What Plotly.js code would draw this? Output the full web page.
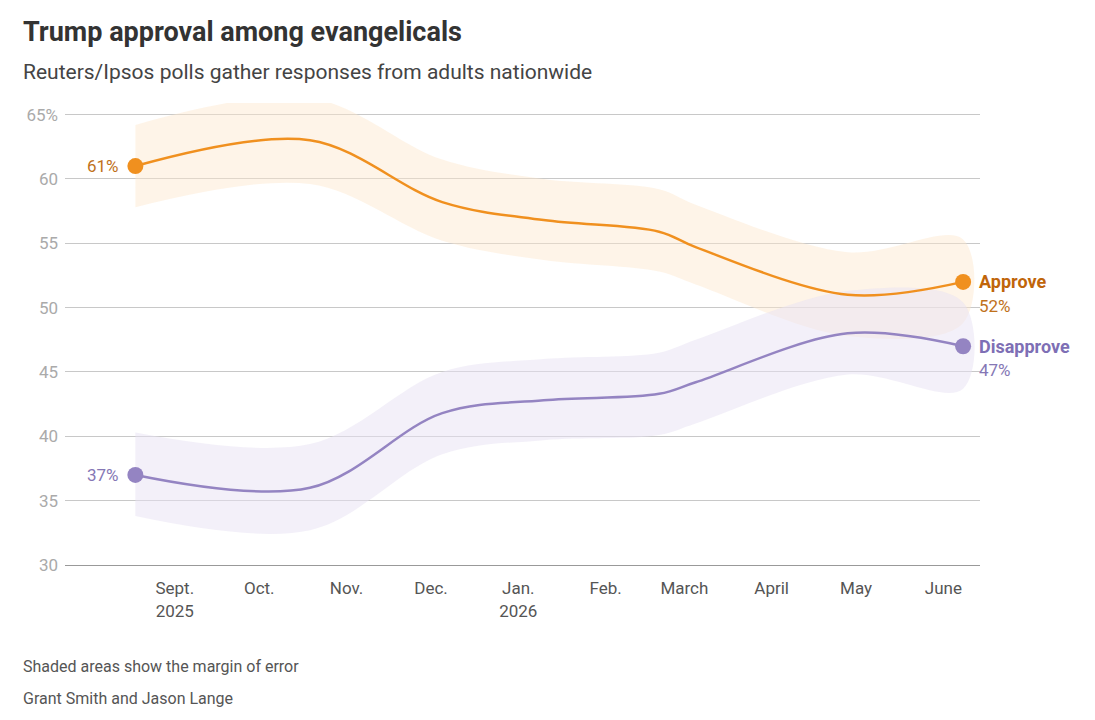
<!DOCTYPE html>
<html>
<head>
<meta charset="utf-8">
<script src="https://cdn.plot.ly/plotly-3.0.1.min.js"></script>
<style>body{margin:0;background:#fff}</style>
</head>
<body>
<div id="graph"></div>
<script>
// poll dates and readings
const dates = ['2025-08-18', '2025-10-19', '2025-12-05', '2026-01-10', '2026-02-20', '2026-03-05', '2026-04-28', '2026-06-08'];
const approve = [61, 63, 58.2, 56.8, 55.9, 54.7, 51, 52];
const disapprove = [37, 36, 41.8, 42.8, 43.3, 44.2, 48, 47];
const approveUpper = [64.2, 66.3, 61.5, 60, 59.2, 58, 54.3, 55.3];
const approveLower = [57.8, 59.6, 55.2, 53.7, 52.8, 51.8, 47.8, 48.8];
const disapproveUpper = [40.3, 39.4, 45, 46, 46.5, 47.5, 51.3, 50.4];
const disapproveLower = [33.8, 32.7, 38.6, 39.7, 40.1, 41, 44.8, 43.7];
const tickDates = ['2025-09-01', '2025-10-01', '2025-11-01', '2025-12-01', '2026-01-01', '2026-02-01', '2026-03-01', '2026-04-01', '2026-05-01', '2026-06-01'];
const tickLabels = ['Sept.<br>2025', 'Oct.', 'Nov.', 'Dec.', 'Jan.<br>2026', 'Feb.', 'March', 'April', 'May', 'June'];
const yTicks = [30, 35, 40, 45, 50, 55, 60, 65];
const yLabels = ['30', '35', '40', '45', '50', '55', '60', '65%'];

const orange = '#f0901f';
const purple = '#9484c2';
const last = dates.length - 1;

function band(upper, lower, color)
{
  return {
    x: dates.concat(dates.slice().reverse()),
    y: upper.concat(lower.slice().reverse()),
    type: 'scatter', mode: 'lines', fill: 'toself', fillcolor: color,
    line: {width: 0, shape: 'spline', smoothing: 1}, hoverinfo: 'skip'
  };
}

function line(values, color)
{
  return {x: dates, y: values, type: 'scatter', mode: 'lines',
    line: {color: color, width: 2.5, shape: 'spline', smoothing: 1}};
}

function ends(values, color)
{
  return {x: [dates[0], dates[last]], y: [values[0], values[last]], type: 'scatter', mode: 'markers',
    marker: {color: color, size: 16}, cliponaxis: false};
}

let data = [
  band(approveUpper, approveLower, 'rgba(253,230,205,0.45)'),
  band(disapproveUpper, disapproveLower, 'rgba(232,226,244,0.5)'),
  line(approve, orange), line(disapprove, purple),
  ends(approve, orange), ends(disapprove, purple)
];

let font = 'Roboto, "Open Sans", sans-serif';
let layout =
{
  width: 1095, height: 720,
  margin: {l: 65, r: 115, t: 103, b: 155},
  showlegend: false,
  paper_bgcolor: '#fff', plot_bgcolor: '#fff',
  font: {family: font, color: '#444'},
  xaxis:
  {
    type: 'date', range: ['2025-07-24', '2026-06-14'],
    tickvals: tickDates, ticktext: tickLabels,
    showgrid: false, zeroline: false, ticks: '', ticklabelstandoff: 8,
    showline: true, linecolor: '#999', linewidth: 1,
    tickfont: {size: 17, color: '#555'}
  },
  yaxis:
  {
    range: [30, 65.9], tickvals: yTicks, ticktext: yLabels,
    gridcolor: '#c8c8c8', zeroline: false, ticks: '', ticklabelstandoff: 6,
    tickfont: {size: 17, color: '#aaa'}
  },
  annotations: [
    {xref: 'paper', yref: 'paper', x: -0.048, y: 1.154, xanchor: 'left', yanchor: 'middle', showarrow: false,
      text: '<b>Trump approval among evangelicals</b>', font: {size: 27, color: '#333'}},
    {xref: 'paper', yref: 'paper', x: -0.048, y: 1.067, xanchor: 'left', yanchor: 'middle', showarrow: false,
      text: 'Reuters/Ipsos polls gather responses from adults nationwide', font: {size: 21, color: '#444'}},
    {xref: 'paper', yref: 'paper', x: -0.048, y: -0.219, xanchor: 'left', yanchor: 'middle', showarrow: false,
      text: 'Shaded areas show the margin of error', font: {size: 16, color: '#555'}},
    {xref: 'paper', yref: 'paper', x: -0.048, y: -0.288, xanchor: 'left', yanchor: 'middle', showarrow: false,
      text: 'Grant Smith and Jason Lange', font: {size: 16, color: '#555'}},
    {x: dates[0], y: approve[0], xanchor: 'right', xshift: -14, showarrow: false,
      text: approve[0] + '%', font: {size: 17, color: '#c0711c'}},
    {x: dates[0], y: disapprove[0], xanchor: 'right', xshift: -14, showarrow: false,
      text: disapprove[0] + '%', font: {size: 17, color: '#8577b5'}},
    {x: dates[last], y: approve[last], xanchor: 'left', xshift: 14, showarrow: false,
      text: '<b>Approve</b>', font: {size: 18, color: '#c0650a'}},
    {x: dates[last], y: approve[last], xanchor: 'left', xshift: 14, yshift: -24, showarrow: false,
      text: approve[last] + '%', font: {size: 17, color: '#c0711c'}},
    {x: dates[last], y: disapprove[last], xanchor: 'left', xshift: 14, showarrow: false,
      text: '<b>Disapprove</b>', font: {size: 18, color: '#7e6fb5'}},
    {x: dates[last], y: disapprove[last], xanchor: 'left', xshift: 14, yshift: -24, showarrow: false,
      text: disapprove[last] + '%', font: {size: 17, color: '#8577b5'}}
  ]
};

Plotly.newPlot('graph', data, layout, {displayModeBar: false});
</script>
</body>
</html>
